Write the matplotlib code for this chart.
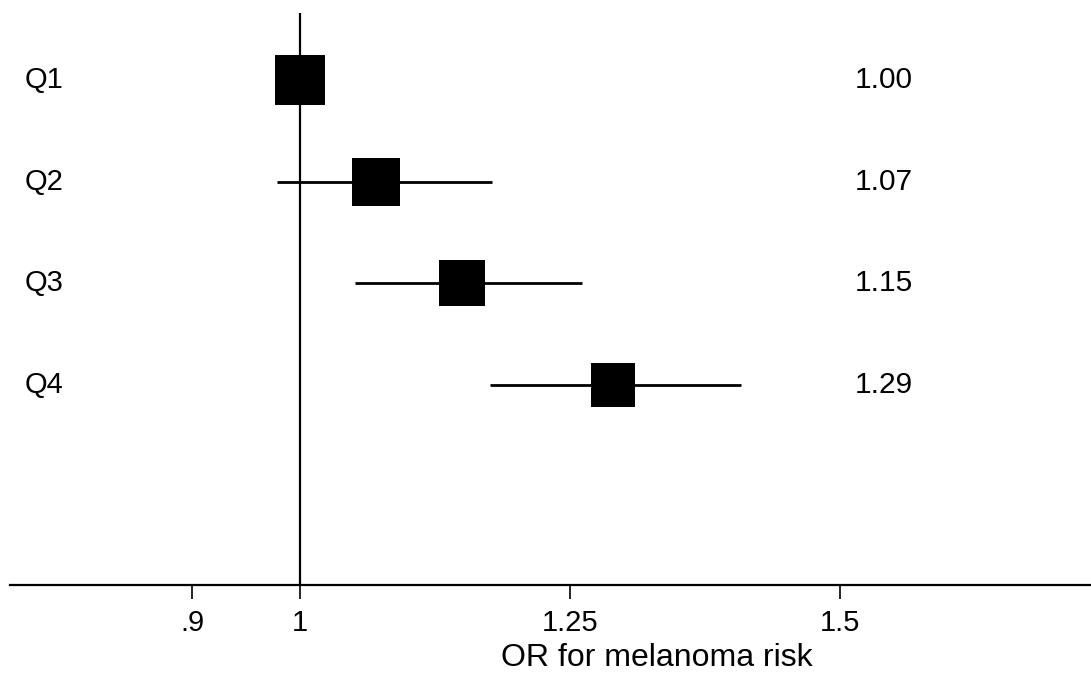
import matplotlib
matplotlib.use('Agg')
import matplotlib.pyplot as plt
import matplotlib.transforms as mtransforms

# odds ratios by quartile, with 95% CI
groups = ['Q1', 'Q2', 'Q3', 'Q4']
odds = [1.00, 1.07, 1.15, 1.29]
ci_lo = [1.00, 0.979, 1.051, 1.176]
ci_hi = [1.00, 1.178, 1.261, 1.408]
box_size = [35.3, 34.6, 33.8, 31.0]   # marker side in points, weight of each row

xticks = [0.9, 1.0, 1.25, 1.5]
xtick_labels = ['.9', '1', '1.25', '1.5']

plt.rcParams['font.family'] = ['Liberation Sans', 'DejaVu Sans']

fig = plt.figure(figsize=(10.91, 6.77), dpi=100)
ax = fig.add_axes([10 / 1091, 1 - 585 / 677, 1 - 10 / 1091, (585 - 13) / 677])

ypos = [4, 3, 2, 1]
for y, o, lo, hi, ms in zip(ypos, odds, ci_lo, ci_hi, box_size):
    if hi > lo:
        ax.plot([lo, hi], [y, y], color='black', lw=2.0, solid_capstyle='butt', zorder=2)
    ax.plot(o, y, 's', color='black', ms=ms, mew=0, zorder=3)

ax.axvline(1.0, color='black', lw=1.6, zorder=1)

# row labels on the left, OR values on the right
trans = mtransforms.blended_transform_factory(fig.transFigure, ax.transData)
for y, g, o in zip(ypos, groups, odds):
    ax.text(25 / 1091, y, g, transform=trans, ha='left', va='center', fontsize=21)
    ax.text(855 / 1091, y, '%.2f' % o, transform=trans, ha='left', va='center', fontsize=21.5)

ax.set_xlim(0.7315, 1.7324)
ax.set_ylim(-0.97, 4.66)
ax.set_xticks(xticks)
ax.set_xticklabels(xtick_labels)
ax.tick_params(axis='x', length=10, width=1.2, pad=7, direction='out', labelsize=21)
ax.set_yticks([])

for s in ['left', 'top', 'right']:
    ax.spines[s].set_visible(False)
ax.spines['bottom'].set_linewidth(1.6)

ax.set_xlabel('OR for melanoma risk', fontsize=23)
ax.xaxis.set_label_coords((657 - 10) / 1081, -0.101)

fig.savefig('out.png', dpi=100)
